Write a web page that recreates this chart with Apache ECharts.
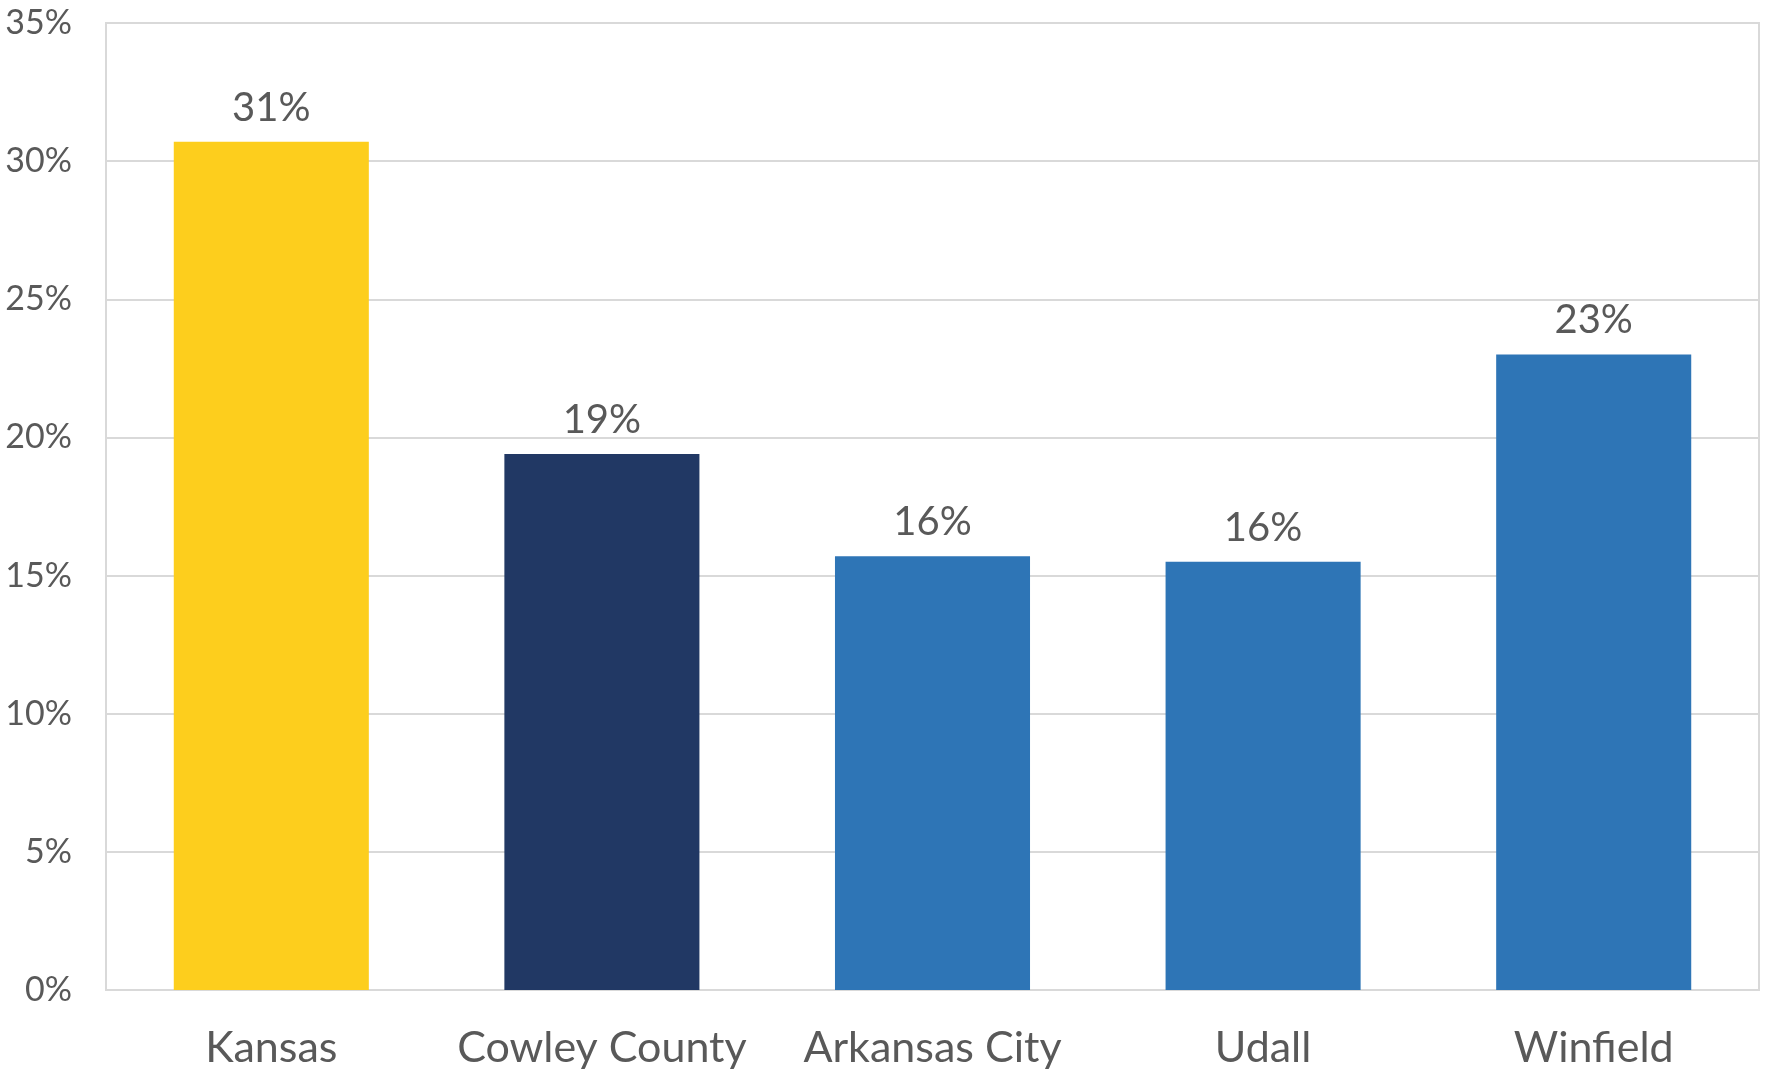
<!DOCTYPE html>
<html lang="en">
<head>
    <meta charset="UTF-8">
    <title>Kansas comparison</title>
    <script type="text/javascript" src="https://cdn.jsdelivr.net/npm/echarts@6/dist/echarts.min.js"></script>
    <style>
        html, body { margin: 0; padding: 0; background: #fff; }
    </style>
</head>
<body>
<div id="main" style="width: 1769px;height:1071px;"></div>
<script type="text/javascript">
    var categories = ['Kansas', 'Cowley County', 'Arkansas City', 'Udall', 'Winfield'];
    var values = [30.7, 19.4, 15.7, 15.5, 23.0];
    var barColors = ['#FDCE1D', '#213864', '#2E75B6', '#2E75B6', '#2E75B6'];
    var yTicks = [0, 5, 10, 15, 20, 25, 30, 35];

    var fontName = 'Lato';
    var textColor = '#595959';

    var option = {
        animation: false,
        grid: {
            left: 106,
            right: 10,
            top: 23,
            bottom: 81,
            show: true,
            borderColor: '#D9D9D9',
            borderWidth: 2
        },
        xAxis: {
            type: 'category',
            data: categories,
            axisLine: { lineStyle: { color: '#D9D9D9', width: 2 } },
            axisTick: { show: false },
            axisLabel: {
                interval: 0,
                color: textColor,
                fontFamily: fontName,
                fontSize: 43,
                margin: 37
            }
        },
        yAxis: {
            type: 'value',
            min: yTicks[0],
            max: yTicks[yTicks.length - 1],
            interval: 5,
            axisLine: { show: false },
            axisTick: { show: false },
            splitLine: { lineStyle: { color: '#D9D9D9', width: 2 } },
            axisLabel: {
                color: textColor,
                fontFamily: fontName,
                fontSize: 34,
                margin: 34,
                formatter: '{value}%'
            }
        },
        series: [
            {
                type: 'bar',
                barWidth: '59%',
                data: values.map(function (v, i) {
                    return { value: v, itemStyle: { color: barColors[i] } };
                }),
                label: {
                    show: true,
                    position: 'top',
                    distance: 14,
                    color: textColor,
                    fontFamily: fontName,
                    fontSize: 40,
                    formatter: function (p) { return Math.round(p.value) + '%'; }
                }
            }
        ]
    };

    var myChart = echarts.init(document.getElementById('main'));
    myChart.setOption(option);
</script>
</body>
</html>
